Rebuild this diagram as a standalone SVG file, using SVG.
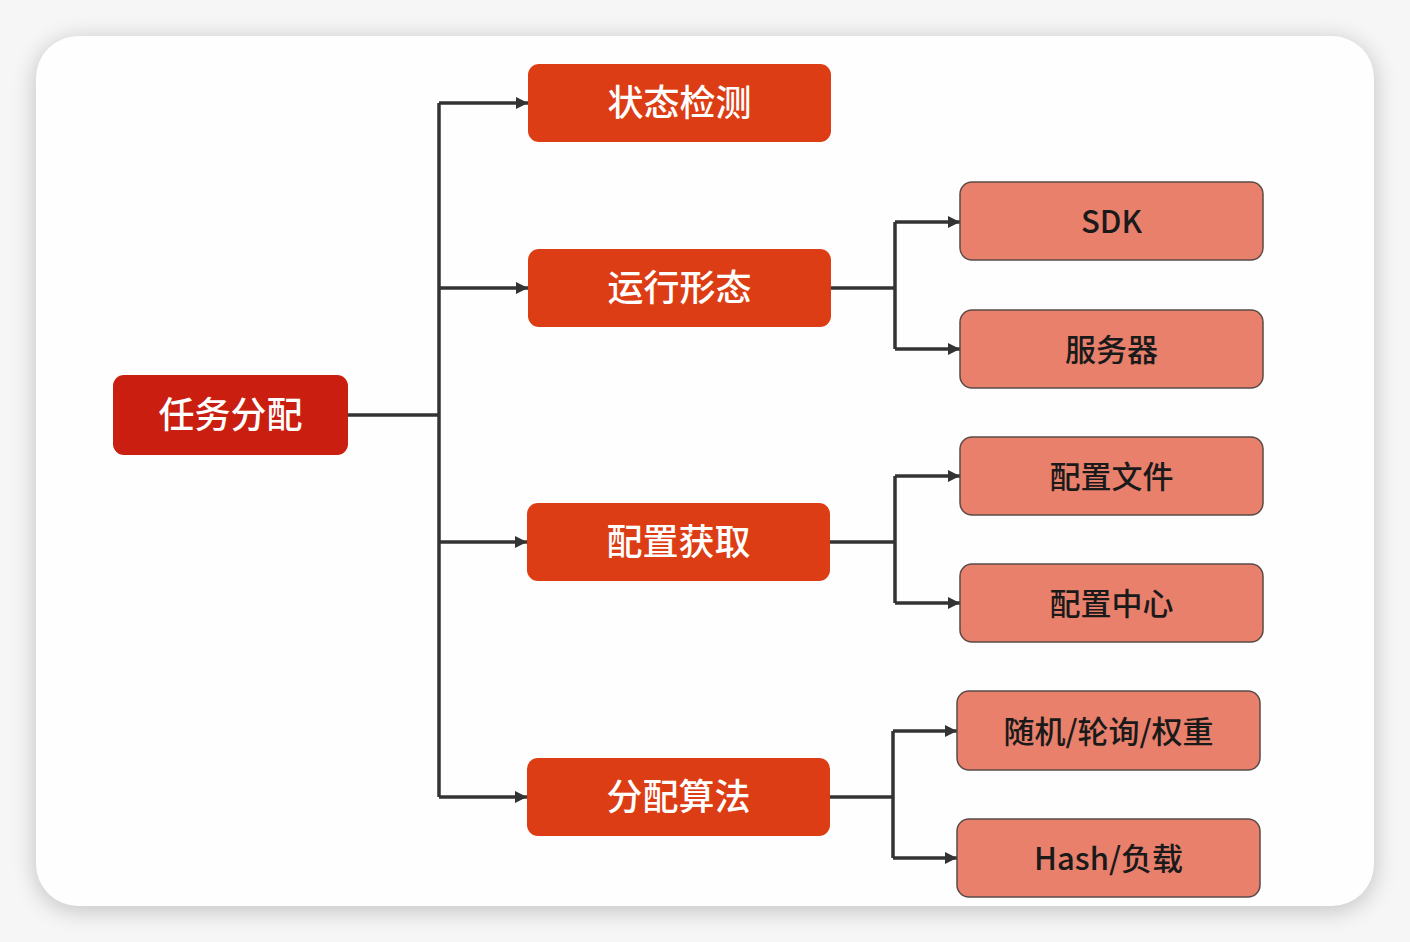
<svg xmlns="http://www.w3.org/2000/svg" width="1410" height="942" viewBox="0 0 1410 942">
<defs>
<style>
.t{font-family:"Noto Sans CJK SC","Liberation Sans",sans-serif;text-anchor:middle;dominant-baseline:central;font-weight:500}
.w{fill:#ffffff;font-size:36px}
.d{fill:#1a1a1a;font-size:31px}
.l1{fill:#dc3d14}
.l2{fill:#e8806c;stroke:#5a4a48;stroke-width:1.5}
.c{fill:none;stroke:#333333;stroke-width:3.5}
</style>
<marker id="a" viewBox="0 0 10 10" refX="10" refY="5" markerWidth="12" markerHeight="12" markerUnits="userSpaceOnUse" orient="auto">
<path d="M0,0 L10,5 L0,10 z" fill="#333333"/>
</marker>
<filter id="sh" x="-10%" y="-10%" width="120%" height="120%">
<feGaussianBlur stdDeviation="12"/>
</filter>
</defs>
<rect width="1410" height="942" fill="#f6f6f6"/>
<rect x="36" y="40" width="1338" height="870" rx="42" fill="#000" opacity="0.22" filter="url(#sh)"/>
<rect x="36" y="36" width="1338" height="870" rx="42" fill="#fefefe"/>
<g id="connectors">
<path class="c" d="M348,415 H439"/>
<path class="c" d="M439,103 V797"/>
<path class="c" d="M439,103 H528" marker-end="url(#a)"/>
<path class="c" d="M439,288 H528" marker-end="url(#a)"/>
<path class="c" d="M439,542 H527" marker-end="url(#a)"/>
<path class="c" d="M439,797 H527" marker-end="url(#a)"/>
<path class="c" d="M831,288 H895"/>
<path class="c" d="M895,222 V349"/>
<path class="c" d="M895,222 H960" marker-end="url(#a)"/>
<path class="c" d="M895,349 H960" marker-end="url(#a)"/>
<path class="c" d="M830,542 H895"/>
<path class="c" d="M895,476 V603"/>
<path class="c" d="M895,476 H960" marker-end="url(#a)"/>
<path class="c" d="M895,603 H960" marker-end="url(#a)"/>
<path class="c" d="M830,797 H893"/>
<path class="c" d="M893,731 V858"/>
<path class="c" d="M893,731 H957" marker-end="url(#a)"/>
<path class="c" d="M893,858 H957" marker-end="url(#a)"/>
</g>
<g id="root">
<rect x="113" y="375" width="235" height="80" rx="11" fill="#c91e10"/>
<text class="t w" x="230.5" y="412">任务分配</text>
</g>
<g id="n-status">
<rect class="l1" x="528" y="64" width="303" height="78" rx="11"/>
<text class="t w" x="679.5" y="100">状态检测</text>
</g>
<g id="n-run">
<rect class="l1" x="528" y="249" width="303" height="78" rx="11"/>
<text class="t w" x="679.5" y="285">运行形态</text>
</g>
<g id="n-config">
<rect class="l1" x="527" y="503" width="303" height="78" rx="11"/>
<text class="t w" x="678.5" y="539">配置获取</text>
</g>
<g id="n-algo">
<rect class="l1" x="527" y="758" width="303" height="78" rx="11"/>
<text class="t w" x="678.5" y="794">分配算法</text>
</g>
<g id="n-sdk">
<rect class="l2" x="960" y="182" width="303" height="78" rx="12"/>
<text class="t d" x="1111.5" y="219">SDK</text>
</g>
<g id="n-server">
<rect class="l2" x="960" y="310" width="303" height="78" rx="12"/>
<text class="t d" x="1111.5" y="347">服务器</text>
</g>
<g id="n-file">
<rect class="l2" x="960" y="437" width="303" height="78" rx="12"/>
<text class="t d" x="1111.5" y="474">配置文件</text>
</g>
<g id="n-center">
<rect class="l2" x="960" y="564" width="303" height="78" rx="12"/>
<text class="t d" x="1111.5" y="601">配置中心</text>
</g>
<g id="n-random">
<rect class="l2" x="957" y="691" width="303" height="79" rx="12"/>
<text class="t d" x="1108.5" y="729">随机/轮询/权重</text>
</g>
<g id="n-hash">
<rect class="l2" x="957" y="819" width="303" height="78" rx="12"/>
<text class="t d" x="1108.5" y="856">Hash/负载</text>
</g>
</svg>
